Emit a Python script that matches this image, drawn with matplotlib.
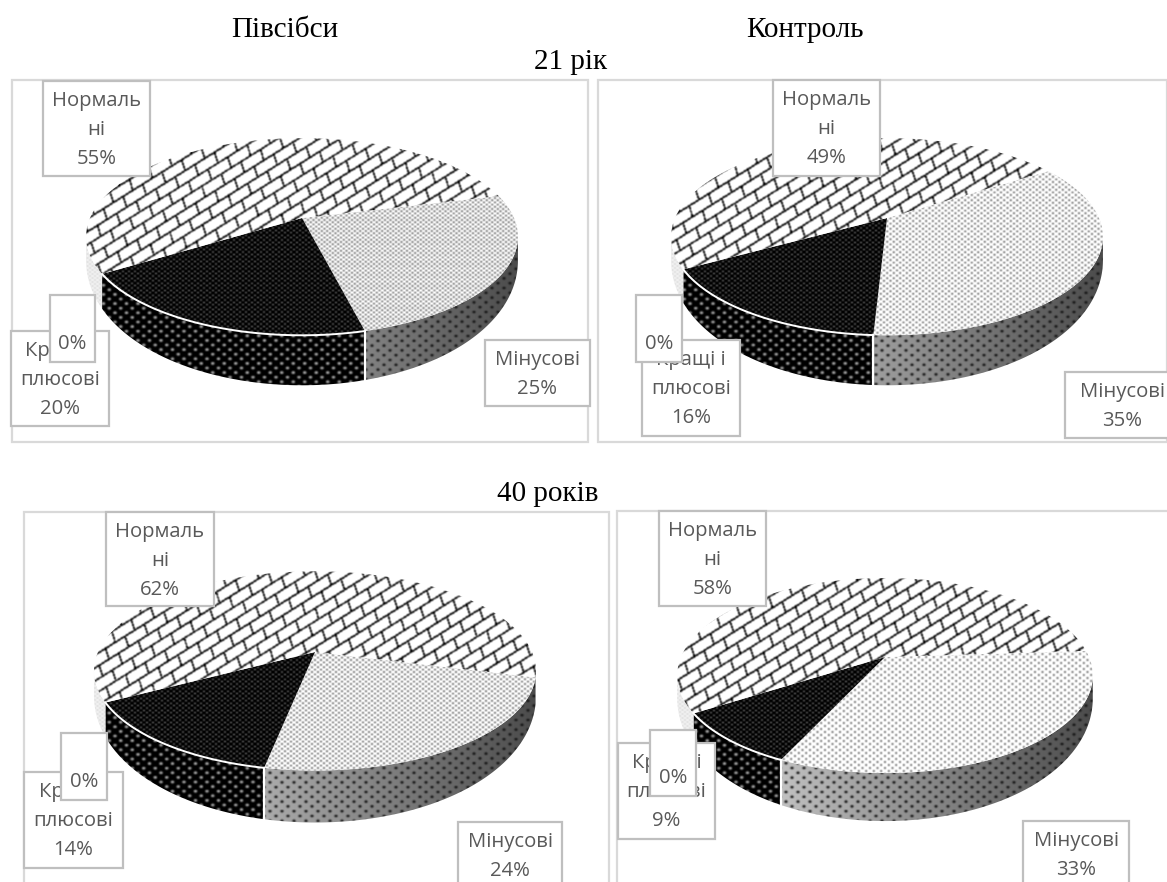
import matplotlib
matplotlib.use("Agg")
import matplotlib.pyplot as plt
import numpy as np
from matplotlib.patches import Polygon, Rectangle

W, H = 1167, 882

# values in percent, one entry per panel
minus_vals = [25, 35, 24, 33]
better_vals = [20, 16, 14, 9]
zero_vals = [0, 0, 0, 0]
normal_vals = [55, 49, 62, 58]

better_text = "Кращі і\nплюсові"
minus_text = "Мінусові"
normal_text = "Нормаль\nні"

headers = ["Півсібси", "Контроль"]
ages = ["21 рік", "40 років"]

# layout of each panel in pixels, kept apart from the values
FRAMES = [(12, 80, 588, 442), (598, 80, 1167, 442), (24, 512, 609, 900), (617, 511, 1180, 900)]
CENTERS = [(302, 218), (887, 218), (315, 652), (885, 657)]
RADII = [(212, 95), (212, 95), (217, 96), (204, 94)]
DEPTHS = [50, 50, 52, 48]
START = [14, 33, -14.6, 3.8]  # angle where the first slice begins
DOT_STEP = [5.5, 6.5, 6, 7.5]
NORMAL_BOX = [(43, 81, 150, 176), (773, 80, 880, 176), (106, 512, 214, 606), (659, 511, 766, 606)]
BETTER_BOX = [(11, 331, 109, 426), (642, 340, 740, 436), (24, 772, 123, 868), (618, 743, 715, 839)]
ZERO_BOX = [(50, 295, 95, 362), (636, 295, 682, 362), (61, 733, 107, 800), (650, 730, 696, 796)]
MINUS_BOX = [(485, 340, 590, 406), (1065, 372, 1180, 438), (458, 822, 562, 900), (1023, 821, 1129, 900)]

PERSP = 0.19
LABEL_COLOR = "#595959"
BOX_COLOR = "#bfbfbf"
FRAME_COLOR = "#d9d9d9"
LABEL_SIZE = 14.6
LINE_PX = 29


def project(theta, c, rad):
    # circle seen in perspective, theta in degrees
    t = np.radians(theta)
    s = 1 / (1 + PERSP * np.sin(t))
    return c[0] + rad[0] * np.cos(t) * s, c[1] - rad[1] * np.sin(t) * s


def side_drop(theta, depth):
    return depth * (0.35 + 0.65 * np.clip(-np.sin(np.radians(theta)), 0, 1))


def blur(a):
    out = a.copy()
    for ax_i in (0, 1):
        out = (np.roll(out, 1, ax_i) + 2 * out + np.roll(out, -1, ax_i)) / 4
    return out


def dots(X, Y, step, r, fg, bg, squash=1.25):
    u = X / step
    v = Y * squash / step
    d1 = np.hypot(u - np.round(u), v - np.round(v))
    d2 = np.hypot(u + 0.5 - np.round(u + 0.5), v + 0.5 - np.round(v + 0.5))
    d = np.minimum(d1, d2) * step
    m = np.clip(r - d + 0.5, 0, 1)
    return bg + (fg - bg) * m


def bricks(X, Y):
    a = np.radians(32)
    along = X * np.cos(a) - Y * np.sin(a)
    perp = X * np.sin(a) + Y * np.cos(a)
    v = perp / 11
    row = np.floor(v)
    u = (along + 0.25 * perp) / 23 + 0.5 * row
    line = ((v - row) < 0.15) | ((u - np.floor(u)) < 0.07)
    return np.where(line, 0.0, 1.0)


def draw_texture(ax, pts, tex, z):
    x0, x1 = int(pts[:, 0].min()) - 2, int(pts[:, 0].max()) + 3
    y0, y1 = int(pts[:, 1].min()) - 2, int(pts[:, 1].max()) + 3
    X, Y = np.meshgrid(np.arange(x0, x1) + 0.5, np.arange(y0, y1) + 0.5)
    im = ax.imshow(blur(tex(X, Y)), extent=(x0, x1, y1, y0), cmap="gray", vmin=0, vmax=1,
                   aspect="auto", interpolation="bilinear", zorder=z)
    im.set_clip_path(Polygon(pts, transform=ax.transData))


def top_poly(a0, a1, c, rad):
    th = np.linspace(a0, a1, 160)
    x, y = project(th, c, rad)
    return np.vstack([[c], np.column_stack([x, y])])


def side_poly(a0, a1, c, rad, depth):
    th = np.linspace(a0, a1, 120)
    x, y = project(th, c, rad)
    lower = y + side_drop(th, depth)
    return np.vstack([np.column_stack([x, y]), np.column_stack([x, lower])[::-1]])


def label(ax, box, text, z):
    x0, y0, x1, y1 = box
    ax.add_patch(Rectangle((x0, y0), x1 - x0, y1 - y0, fc="white", ec=BOX_COLOR, lw=1.6, zorder=z))
    # each line sits on a fixed pixel step from the top of the box
    for n, line in enumerate(text.split("\n")):
        ax.text((x0 + x1) / 2, y0 + 20 + LINE_PX * n, line, ha="center", va="center", color=LABEL_COLOR,
                fontsize=LABEL_SIZE, family="Open Sans", zorder=z + 0.1)


fig = plt.figure(figsize=(W / 100, H / 100), dpi=100)
ax = fig.add_axes([0, 0, 1, 1])

for i in range(4):
    x0, y0, x1, y1 = FRAMES[i]
    ax.add_patch(Rectangle((x0, y0), x1 - x0, y1 - y0, fc="white", ec=FRAME_COLOR, lw=1.6, zorder=1))

    c, rad, depth = CENTERS[i], RADII[i], DEPTHS[i]
    step = DOT_STEP[i]
    a0 = START[i]
    a1 = a0 - minus_vals[i] * 3.6
    a2 = a1 - better_vals[i] * 3.6
    a3 = a2 - zero_vals[i] * 3.6
    a4 = a0 - 360

    def minus_side(X, Y, cx=c[0], R=rad[0]):
        base = np.clip(0.6 - 0.3 * (X - cx) / R, 0.28, 0.8)
        return dots(X, Y, 12, 1.6, 0.08, base)

    # sides first, only the part facing the viewer
    lo, hi = -169, -11
    draw_texture(ax, side_poly(min(a0, hi), a1, c, rad, depth), minus_side, 2)
    draw_texture(ax, side_poly(a1, max(a2, lo), c, rad, depth),
                 lambda X, Y: dots(X, Y, 11.5, 1.8, 0.62, 0.0), 2)
    if a3 > lo:
        draw_texture(ax, side_poly(a3, lo, c, rad, depth),
                     lambda X, Y: dots(X, Y, 5, 0.9, 0.78, 0.96), 2)

    # top faces
    draw_texture(ax, top_poly(a0, a1, c, rad), lambda X, Y: dots(X, Y, step, 0.9, 0.1, 1.0), 3)
    draw_texture(ax, top_poly(a1, a2, c, rad), lambda X, Y: dots(X, Y, 6, 0.6, 1.0, 0.0), 3)
    draw_texture(ax, top_poly(a3, a4, c, rad), bricks, 3)

    # white rim round the dark slice and the cut at the front
    th = np.linspace(a1, a2, 80)
    rx, ry = project(th, c, rad)
    ax.plot(rx, ry, color="white", lw=1.4, zorder=4)
    fx, fy = project(a1, c, rad)
    ax.plot([fx, fx], [fy, fy + side_drop(a1, depth)], color="white", lw=1.6, zorder=4)

    label(ax, NORMAL_BOX[i], f"{normal_text}\n{normal_vals[i]}%", 6)
    label(ax, MINUS_BOX[i], f"{minus_text}\n{minus_vals[i]}%", 6)
    label(ax, BETTER_BOX[i], f"{better_text}\n{better_vals[i]}%", 6)
    bx0, by0, bx1, by1 = ZERO_BOX[i]
    ax.add_patch(Rectangle((bx0, by0), bx1 - bx0, by1 - by0, fc="white", ec=BOX_COLOR, lw=1.6, zorder=7))
    ax.text((bx0 + bx1) / 2, by1 - 18, f"{zero_vals[i]}%", ha="center", va="center", color=LABEL_COLOR,
            fontsize=LABEL_SIZE, family="Open Sans", zorder=7.1)

ax.set_xlim(0, W)
ax.set_ylim(H, 0)
ax.axis("off")

serif = dict(family="Liberation Serif", fontsize=21, color="black", ha="center", va="center", zorder=9)
ax.text(285, 30, headers[0], **serif)
ax.text(805, 30, headers[1], **serif)
ax.text(571, 62, ages[0], **serif)
ax.text(548, 494, ages[1], **serif)

fig.savefig("out.png", dpi=100, facecolor="white")
